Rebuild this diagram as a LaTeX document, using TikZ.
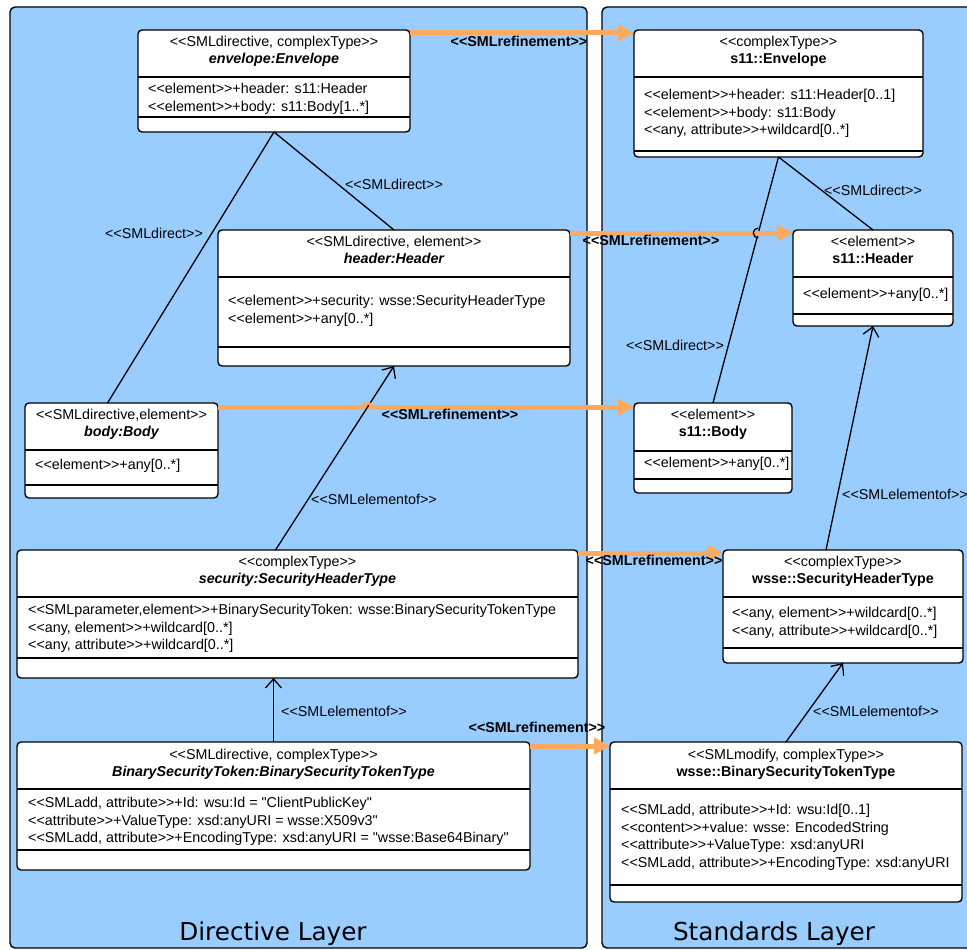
\documentclass[tikz,border=0pt]{standalone}
\usepackage{fontspec}
\setmainfont{Liberation Sans}[Ligatures=TeXOff]
\newfontfamily\layerfont{DejaVu Sans}[Ligatures=TeXOff]
\usetikzlibrary{arrows.meta,calc,intersections}

\definecolor{panelblue}{RGB}{153,204,255}
\definecolor{refineorange}{RGB}{253,170,96}

\newcommand\fs{\fontsize{14.3}{17.5}\selectfont}

\tikzset{
  every node/.style={font=\fs},
  panel/.style={draw=black, line width=1.4pt, rounded corners=5pt, fill=panelblue},
  classbox/.style={draw=black, line width=1.4pt, rounded corners=4pt, fill=white,
    anchor=north west, inner sep=0pt, outer sep=0pt},
  divider/.style={line width=1.4pt},
  stereo/.style={anchor=mid, inner sep=0pt},
  cname/.style={anchor=mid, inner sep=0pt, font=\fs\bfseries},
  dname/.style={anchor=mid, inner sep=0pt, font=\fs\bfseries\itshape},
  attrs/.style={anchor=north west, inner sep=0pt, align=left},
  refine/.style={draw=refineorange, line width=5pt,
    -{Triangle[length=16pt,width=16pt,fill=refineorange]}},
  reflabel/.style={font=\fs\bfseries, inner sep=0pt, anchor=mid},
  direct/.style={draw=black, line width=1.3pt},
  elemof/.style={draw=black, line width=1.3pt, -{Straight Barb[length=9pt,width=16pt]}},
  edgelabel/.style={inner sep=0pt, anchor=mid},
  layerlabel/.style={font=\layerfont\fontsize{24.7}{29}\selectfont, inner sep=0pt, anchor=base}
}

% class frame: name, x, y, width, height, first divider y, second divider y
\newcommand\umlframe[7]{%
  \node[classbox, minimum width=#4pt, minimum height=#5pt] (#1) at (#2,#3) {};
  \draw[divider] (#2,#6) -- ++(#4,0);
  \draw[divider] (#2,#7) -- ++(#4,0);
}

\begin{document}
\begin{tikzpicture}[x=1pt, y=-1pt]
\useasboundingbox (0,0) rectangle (967,950);
\clip (0,0) rectangle (967,950);

% the two layers
\draw[panel] (10,7) rectangle (587,948);
\draw[panel] (602,7) rectangle (990,948);
\node[layerlabel] (dirLayer) at (273,940) {Directive Layer};
\node[layerlabel] (stdLayer) at (774,940) {Standards Layer};

% ---------- class boxes ----------
\umlframe{env}{138}{30}{272}{102}{77}{117}
\node[stereo] (envS) at (274,44) {<<SMLdirective, complexType>>};
\node[dname] (envN) at (274,61) {envelope:Envelope};
\node[attrs] (envA) at (148,90-8.55) {\strut<<element>>+header: s11:Header\\<<element>>+body: s11:Body[1..*]};

\umlframe{s11env}{634}{30}{289}{127}{77}{151}
\node[stereo] (s11envS) at (778.5,44) {<<complexType>>};
\node[cname] (s11envN) at (778.5,61) {s11::Envelope};
\node[attrs] (s11envA) at (644,96-8.55) {\strut<<element>>+header: s11:Header[0..1]\\<<element>>+body: s11:Body\\<<any, attribute>>+wildcard[0..*]};

\umlframe{hdr}{218}{230}{352}{136}{277}{347}
\node[stereo] (hdrS) at (394,244) {<<SMLdirective, element>>};
\node[dname] (hdrN) at (394,261) {header:Header};
\node[attrs] (hdrA) at (228,302-8.55) {\strut<<element>>+security: wsse:SecurityHeaderType\\<<element>>+any[0..*]};

\umlframe{s11hdr}{793}{230}{160}{96}{277}{314}
\node[stereo] (s11hdrS) at (873,244) {<<element>>};
\node[cname] (s11hdrN) at (873,261) {s11::Header};
\node[attrs] (s11hdrA) at (803,295-8.55) {\strut<<element>>+any[0..*]};

\umlframe{body}{25}{403}{193}{95}{450}{485}
\node[stereo] (bodyS) at (121.5,417) {<<SMLdirective,element>>};
\node[dname] (bodyN) at (121.5,434) {body:Body};
\node[attrs] (bodyA) at (35,466-8.55) {\strut<<element>>+any[0..*]};

\umlframe{s11body}{634}{403}{158}{90}{451}{479}
\node[stereo] (s11bodyS) at (713,417) {<<element>>};
\node[cname] (s11bodyN) at (713,434) {s11::Body};
\node[attrs] (s11bodyA) at (644,464-8.55) {\strut<<element>>+any[0..*]};

\umlframe{sec}{17}{550}{561}{128}{597}{658}
\node[stereo] (secS) at (297.5,564) {<<complexType>>};
\node[dname] (secN) at (297.5,581) {security:SecurityHeaderType};
\node[attrs] (secA) at (28,611-8.55) {\strut<<SMLparameter,element>>+BinarySecurityToken: wsse:BinarySecurityTokenType\\<<any, element>>+wildcard[0..*]\\<<any, attribute>>+wildcard[0..*]};

\umlframe{wsht}{723}{550}{240}{113}{597}{648}
\node[stereo] (wshtS) at (843,564) {<<complexType>>};
\node[cname] (wshtN) at (843,581) {wsse::SecurityHeaderType};
\node[attrs] (wshtA) at (732,614-8.55) {\strut<<any, element>>+wildcard[0..*]\\<<any, attribute>>+wildcard[0..*]};

\umlframe{bst}{17}{742}{513}{128}{789}{850}
\node[stereo] (bstS) at (273.5,757) {<<SMLdirective, complexType>>};
\node[dname] (bstN) at (273.5,774) {BinarySecurityToken:BinarySecurityTokenType};
\node[attrs] (bstA) at (28,804-8.55) {\strut<<SMLadd, attribute>>+Id: wsu:Id = "ClientPublicKey"\\<<attribute>>+ValueType: xsd:anyURI = wsse:X509v3"\\<<SMLadd, attribute>>+EncodingType: xsd:anyURI = "wsse:Base64Binary"};

\umlframe{wbst}{610}{742}{352}{160}{789}{885}
\node[stereo] (wbstS) at (786,757) {<<SMLmodify, complexType>>};
\node[cname] (wbstN) at (786,774) {wsse::BinarySecurityTokenType};
\node[attrs] (wbstA) at (621,811-8.55) {\strut<<SMLadd, attribute>>+Id: wsu:Id[0..1]\\<<content>>+value: wsse: EncodedString\\<<attribute>>+ValueType: xsd:anyURI\\<<SMLadd, attribute>>+EncodingType: xsd:anyURI};

% ---------- SMLdirect links ----------
\draw[direct] (env.south) -- ([xshift=-14pt]body.north);
\draw[direct] (env.south) -- (hdr.north);
\draw[direct] (s11env.south) -- (s11hdr.north);
\draw[direct, name path=dirB] (s11env.south) -- (s11body.north);
\node[edgelabel] (dl1) at (154,236) {<<SMLdirect>>};
\node[edgelabel] (dl2) at (394,187) {<<SMLdirect>>};
\node[edgelabel] (dl3) at (873,193) {<<SMLdirect>>};
\node[edgelabel] (dl4) at (675,348) {<<SMLdirect>>};

% ---------- SMLrefinement links ----------
\draw[refine] ([yshift=-3pt]env.north east) -- ([yshift=-3pt]s11env.north west);
\draw[refine, name path=refH] ([yshift=-3pt]hdr.north east) -- ([yshift=-3pt]s11hdr.north west);
\draw[refine, name path=refB] ([yshift=-4pt]body.north east) -- ([yshift=-4pt]s11body.north west);
\draw[refine] ([yshift=-3pt]sec.north east) -- ([yshift=-3pt]wsht.north west);
\draw[refine] ([yshift=-4pt]bst.north east) -- ([yshift=-4pt]wbst.north west);
\node[reflabel] (rl1) at (519,44) {<<SMLrefinement>>};
\node[reflabel] (rl2) at (651,243) {<<SMLrefinement>>};
\node[reflabel] (rl3) at (450,417) {<<SMLrefinement>>};
\node[reflabel] (rl4) at (654,563) {<<SMLrefinement>>};
\node[reflabel] (rl5) at (537,730) {<<SMLrefinement>>};

% ---------- SMLelementof links ----------
\draw[elemof, name path=elA] ([xshift=-22pt]sec.north) -- (hdr.south);
\draw[elemof] (bst.north) -- (bst.north |- sec.south);
\draw[elemof] ([xshift=-17pt]wsht.north) -- (s11hdr.south);
\draw[elemof] (wbst.north) -- (wsht.south);
\node[edgelabel] (el1) at (374,502) {<<SMLelementof>>};
\node[edgelabel] (el2) at (344,714) {<<SMLelementof>>};
\node[edgelabel] (el3) at (905,497) {<<SMLelementof>>};
\node[edgelabel] (el4) at (876,714) {<<SMLelementof>>};

% line hops at the crossings
\path[name intersections={of=dirB and refH, by=hopA}];
\draw[direct] ([yshift=5pt]hopA) arc[start angle=90, end angle=270, radius=5pt];
\path[name intersections={of=elA and refB, by=hopB}];
\draw[draw=refineorange, line width=2.5pt] ([xshift=-4pt]hopB) arc[start angle=180, end angle=0, radius=4pt];
\end{tikzpicture}
\end{document}
